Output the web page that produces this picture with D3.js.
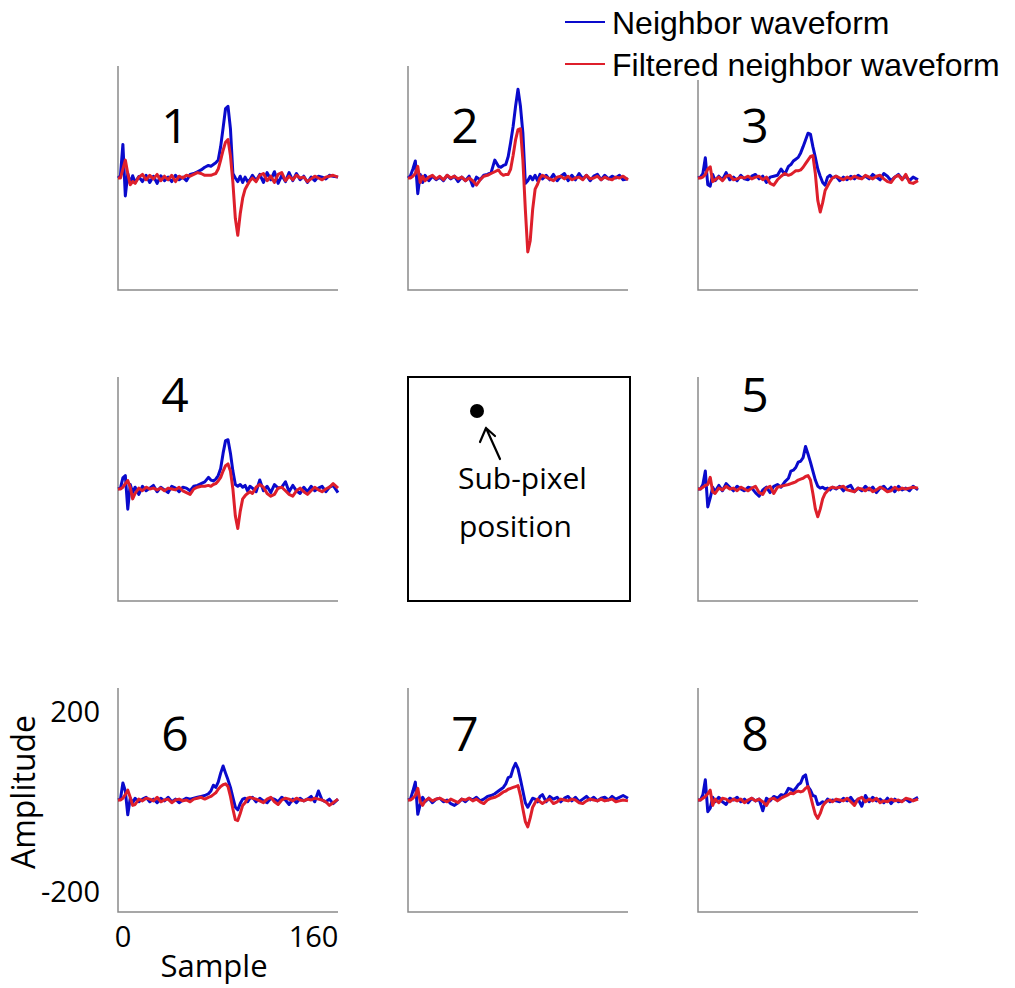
<!DOCTYPE html>
<html>
<head>
<meta charset="utf-8">
<script src="https://cdn.jsdelivr.net/npm/d3@7"></script>
<style>
  body { margin: 0; background: #fff; }
  svg { display: block; }
</style>
</head>
<body>
<div id="chart"></div>
<script>
// sample index shared by every waveform
const samples = [0,2,4,6,8,10,12,14,
  17,20,23,26,29,32,35,38,41,44,47,50,53,56,59,62,65,68,71,74,
  76,78,80,82,84,86,88,90,92,94,96,98,100,102,104,106,108,110,113,
  116,119,122,125,128,131,134,137,140,143,146,149,152,155,158,161,164,167,170,173,176,180];

const channels = ["1", "2", "3", "4", "5", "6", "7", "8"];
const seriesNames = ["Neighbor waveform", "Filtered neighbor waveform"];
const xTicks = [0, 160];
const yTicks = [200, -200];

// raw neighbor waveforms (blue)
const neighbor1 = [0,5,75,-40,10,-12,5,-10, 3,-8,6,-10,4,-12,5,-6,2,-8,6,-4,2,-6,8,10,14,18,24,28, 26,30,34,40,70,112,155,160,110,10,0,-8,4,-10,2,-8,-4,6,-6, 8,-10,12,-4,14,-12,6,-8,12,-6,10,-4,4,-10,2,-6,4,2,-2,6,4,2];
const neighbor2 = [0,5,20,38,-35,8,-10,6, -6,4,-4,2,-6,6,-2,4,-8,2,-6,4,-18,2,-4,6,8,12,40,26, 24,28,30,48,80,115,160,198,160,100,-12,-6,4,-4,6,-6,8,-2,6, -4,8,-6,4,10,-6,6,-4,10,-2,6,-6,4,8,-4,6,-2,4,0,6,-4,-2];
const neighbor3 = [0,2,10,45,-15,-18,8,-6, 4,-4,12,-4,2,-6,6,-2,-4,4,8,-2,4,-10,2,4,6,20,8,26, 30,38,42,46,56,70,85,100,98,70,46,20,4,-10,-16,2,6,0,4, -6,2,-4,4,-2,6,0,4,-2,8,2,-4,10,4,-6,2,8,-2,4,-6,2,-4];
const neighbor4 = [0,2,25,30,-45,10,-8,4, -12,6,-4,2,8,-6,4,-2,-8,6,2,-6,4,2,-4,6,8,12,16,26, 20,18,22,30,46,80,108,110,80,40,10,6,10,4,8,-4,6,2,-6, 20,-4,6,-8,10,2,4,16,-6,8,-4,-10,4,-6,6,-4,2,6,-6,4,8,-8];
const neighbor5 = [0,0,10,40,-40,-20,4,-6, 8,-4,12,4,-4,6,0,-4,4,2,-8,-16,-2,4,-8,6,10,4,16,24, 40,42,48,60,62,70,95,78,60,40,20,6,2,4,0,2,-2,4,0, 6,-4,4,8,-6,2,-4,6,-2,4,-8,2,6,-4,4,-6,6,-2,2,-4,6,-2];
const neighbor6 = [0,2,38,20,-33,4,-6,4, -4,2,6,-4,2,-6,4,-2,6,-4,2,-6,0,4,2,4,6,8,10,14, 20,33,28,40,60,76,60,45,28,6,-16,-22,-8,2,4,-4,4,6,-4, 4,-2,-6,4,2,-4,6,0,-10,2,-6,4,-2,2,8,-4,20,0,-4,2,-8,2];
const neighbor7 = [0,2,20,40,-32,-10,6,-4, 4,-6,2,4,-4,0,-8,-12,-6,2,-4,4,0,6,-2,2,8,10,14,20, 24,28,36,50,52,70,82,70,46,20,-6,-16,-6,4,2,-4,8,12,-4, 8,2,6,-4,4,8,-2,6,-4,2,8,0,6,-2,4,6,0,8,2,6,10,4];
const neighbor8 = [0,0,12,45,-26,-18,6,-4, 6,-4,-10,4,0,6,-4,2,-6,4,-2,2,-24,4,-2,8,4,12,10,26, 24,20,26,34,38,52,56,30,22,10,8,-10,-8,-4,-6,2,-4,0,-2, -4,4,-2,6,-6,2,-14,10,-4,6,-2,2,-6,4,-8,2,-4,-2,2,-4,0,6];

// filtered neighbor waveforms (red)
const filtered1 = [0,0,20,40,10,-15,-8,-12, 2,8,-4,6,-2,8,-6,4,-4,6,-8,4,0,6,4,8,12,10,6,6, 6,8,10,20,40,62,80,86,50,-10,-90,-128,-80,-45,-25,-15,-6,0,-8, 6,10,-6,4,-10,8,12,-6,4,-4,6,0,2,-8,-2,4,0,-4,2,4,6,2];
const filtered2 = [0,0,4,10,26,-10,4,-6, 2,6,-2,4,-4,6,0,4,-2,2,-6,0,-6,-16,-4,4,6,10,14,18, 10,6,8,8,20,50,85,108,110,40,-70,-165,-140,-70,-25,-14,0,6,2, -2,-6,2,4,-2,4,-4,0,2,-4,6,-2,0,4,-4,2,-2,-4,2,0,4,-4];
const filtered3 = [0,0,2,8,20,25,-8,-4, 2,-6,4,6,-4,-2,2,0,4,-2,2,4,-4,2,-12,-16,-4,4,10,6, 8,12,16,16,18,24,32,40,48,50,10,-50,-76,-55,-28,-18,-8,0,4, 0,-4,2,-2,4,0,-2,6,2,-2,4,6,-2,-8,-10,2,6,-4,8,-10,-12,-6];
const filtered4 = [0,0,4,12,19,4,-22,-10, 2,-4,4,0,2,-2,2,-4,2,0,-2,4,-4,-8,-12,0,4,6,6,8, 6,10,12,18,26,40,52,56,40,0,-60,-88,-50,-22,-15,-10,-6,-10,4, 10,4,-10,-16,-12,2,4,-4,-12,-16,-4,2,-6,-12,-4,4,-2,-6,0,4,12,2];
const filtered5 = [0,0,4,8,10,26,-6,-10, 2,-2,6,0,2,-4,4,0,-4,2,6,-8,-12,2,6,-10,4,6,8,10, 12,14,16,20,22,24,28,30,20,-10,-44,-62,-45,-22,-10,-4,2,4,2, 4,6,-2,-4,-6,2,0,-4,2,-6,-2,4,0,-6,-4,4,-2,2,0,2,4,2];
const filtered6 = [0,0,4,12,22,6,-12,-10, 2,-2,4,2,-2,6,-4,0,2,-6,0,2,-2,0,-4,2,4,6,2,6, 8,12,16,24,30,34,36,30,8,-20,-44,-46,-30,-12,-6,4,6,4,2, -2,-6,2,6,-4,-10,0,4,2,-2,4,0,-2,2,0,4,2,0,-4,-12,-6,2];
const filtered7 = [0,0,4,10,26,-4,-12,-2, 4,-2,2,4,0,-4,2,-2,-6,2,0,4,-2,2,-4,-8,0,4,6,10, 14,18,20,24,26,28,30,32,10,-20,-48,-60,-40,-16,-6,2,-4,-8,-2, 2,-8,-4,2,0,-2,2,0,-6,-8,-2,2,0,-2,2,-2,0,2,-4,-2,0,-2];
const filtered8 = [0,0,4,8,14,22,-12,2, -6,4,2,-4,2,-2,2,-6,0,4,-2,2,-4,-12,2,4,-2,4,8,12, 16,14,18,20,18,20,26,30,10,-12,-32,-41,-30,-14,-6,-2,0,-4,2, 0,-2,4,-4,-12,2,6,-4,2,-2,4,-6,-2,-4,2,-2,0,-4,4,2,-2,2];

const neighborSeries = [neighbor1, neighbor2, neighbor3, neighbor4, neighbor5, neighbor6, neighbor7, neighbor8];
const filteredSeries = [filtered1, filtered2, filtered3, filtered4, filtered5, filtered6, filtered7, filtered8];

// layout
const width = 1015, height = 988;
const colX = [118, 408, 698];
const rowY = [66, 377, 688];
const panelW = 220, panelH = 224;
const cells = [[0,0],[1,0],[2,0],[0,1],[2,1],[0,2],[1,2],[2,2]];
const labelOffset = [60, 18, 46]; // number label distance from panel top, per row
const blue = "#0a0acc", red = "#de1f2b";

const svg = d3.select("#chart").append("svg")
  .attr("width", width).attr("height", height);

channels.forEach((name, k) => {
  const [c, r] = cells[k];
  const left = colX[c], top = rowY[r];
  const x = d3.scaleLinear().domain([0, 180]).range([left, left + panelW]);
  const y = d3.scaleLinear().domain([-250, 250]).range([top + panelH, top]);
  const g = svg.append("g");

  // axis lines (left and bottom only, no ticks)
  g.append("path")
    .attr("d", `M${left},${top}V${top + panelH}H${left + panelW}`)
    .attr("fill", "none").attr("stroke", "#8a8a8a").attr("stroke-width", 1.5);

  const line = d3.line()
    .x((d, i) => x(samples[i]))
    .y(d => y(d));

  g.append("path").datum(neighborSeries[k])
    .attr("d", line).attr("fill", "none")
    .attr("stroke", blue).attr("stroke-width", 3).attr("stroke-linejoin", "round");
  g.append("path").datum(filteredSeries[k])
    .attr("d", line).attr("fill", "none")
    .attr("stroke", red).attr("stroke-width", 3).attr("stroke-linejoin", "round");

  g.append("text")
    .attr("x", left + 57).attr("y", top + labelOffset[r] + 17)
    .attr("text-anchor", "middle")
    .style("font-family", "Open Sans").style("font-size", "48px")
    .text(name);

  // tick labels only on the bottom-left panel
  if (name === "6") {
    g.selectAll(".xt").data(xTicks).enter().append("text")
      .attr("x", d => x(d) + (d === 0 ? 5 : 0)).attr("y", 947)
      .attr("text-anchor", "middle")
      .style("font-family", "Open Sans").style("font-size", "29px")
      .text(d => d);
    g.selectAll(".yt").data(yTicks).enter().append("text")
      .attr("x", 100).attr("y", d => y(d) + 12)
      .attr("text-anchor", "end")
      .style("font-family", "Open Sans").style("font-size", "29px")
      .text(d => d);
    g.append("text")
      .attr("x", 214).attr("y", 977).attr("text-anchor", "middle")
      .style("font-family", "Open Sans").style("font-size", "31px")
      .text("Sample");
    g.append("text")
      .attr("transform", `translate(35,${y(0) - 8}) rotate(-90)`)
      .attr("text-anchor", "middle")
      .style("font-family", "Open Sans").style("font-size", "32px")
      .text("Amplitude");
  }
});

// centre cell: sub-pixel position sketch
const box = svg.append("g");
box.append("rect")
  .attr("x", colX[1]).attr("y", rowY[1])
  .attr("width", panelW + 2).attr("height", panelH)
  .attr("fill", "none").attr("stroke", "#000").attr("stroke-width", 2);
box.append("circle").attr("cx", 477).attr("cy", 411).attr("r", 7).attr("fill", "#000");
box.append("path")
  .attr("d", "M500,459L486,428M486,428L480,442M486,428L495,436")
  .attr("fill", "none").attr("stroke", "#000").attr("stroke-width", 2.2).attr("stroke-linecap", "round");
box.append("text").attr("x", 458).attr("y", 489)
  .style("font-family", "Open Sans").style("font-size", "30px").text("Sub-pixel");
box.append("text").attr("x", 459).attr("y", 537)
  .style("font-family", "Open Sans").style("font-size", "30px").text("position");

// legend, on a white backing that hides the top of panel 3's axis
const legend = svg.append("g");
legend.append("rect").attr("x", 560).attr("y", 0).attr("width", 455).attr("height", 80).attr("fill", "#fff");
legend.selectAll("line").data(seriesNames).enter().append("line")
  .attr("x1", 565).attr("x2", 605)
  .attr("y1", (d, i) => 22 + i * 42).attr("y2", (d, i) => 22 + i * 42)
  .attr("stroke", (d, i) => i === 0 ? blue : red).attr("stroke-width", 2);
legend.selectAll("text").data(seriesNames).enter().append("text")
  .attr("x", 612).attr("y", (d, i) => 34 + i * 42)
  .style("font-family", "Liberation Sans").style("font-size", "32px")
  .text(d => d);
</script>
</body>
</html>
